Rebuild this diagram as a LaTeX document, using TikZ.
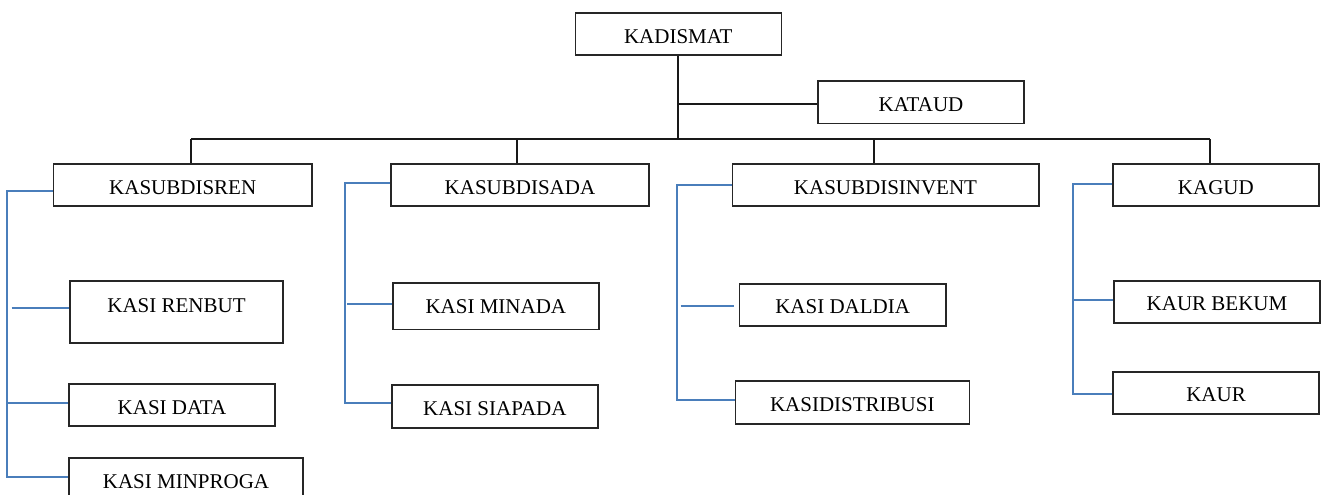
\documentclass[tikz,border=0pt]{standalone}
\usepackage{fontspec}
\setmainfont{Liberation Serif}
\definecolor{blueline}{HTML}{4A7EBB}
\begin{document}
\begin{tikzpicture}[x={(1pt,0pt)},y={(0pt,-1pt)},
  box/.style={draw=black!85, line width=1.6pt, inner sep=0pt, text height=18pt, text depth=0pt,
    font=\fontsize{21}{25}\selectfont, anchor=center},
  blk/.style={line width=2.1pt, draw=black!90},
  blu/.style={line width=2.1pt, draw=blueline}]
\useasboundingbox (0,0) rectangle (1322,495);
\fill[white] (0,0) rectangle (1322,495);
\clip (0,0) rectangle (1322,495);
% top
\node[box, minimum width=206pt, minimum height=42pt] (kadismat) at (678.3,34.3) {KADISMAT};
\node[box, minimum width=206pt, minimum height=42.6pt] (kataud) at (921,102) {KATAUD};
% level 2
\node[box, minimum width=258.5pt, minimum height=42pt] (ren) at (182.75,185) {KASUBDISREN};
\node[box, minimum width=258pt, minimum height=42pt] (ada) at (520,185) {KASUBDISADA};
\node[box, minimum width=306.4pt, minimum height=42pt] (invent) at (885.5,185) {KASUBDISINVENT};
\node[box, minimum width=206.3pt, minimum height=42.3pt] (gud) at (1215.85,185) {KAGUD};
% level 3
\node[box, minimum width=213pt, minimum height=62pt, text height=14pt, text depth=13pt] (renbut) at (176.5,312) {KASI RENBUT};
\node[box, minimum width=206pt, minimum height=42pt] (data) at (172,405) {KASI DATA};
\node[box, minimum width=234pt, minimum height=43pt] (minproga) at (186,479.5) {KASI MINPROGA};
\node[box, minimum width=206.3pt, minimum height=46.6pt, text height=14pt] (minada) at (495.85,306) {KASI MINADA};
\node[box, minimum width=206.3pt, minimum height=43pt] (siapada) at (494.85,406.2) {KASI SIAPADA};
\node[box, minimum width=206.7pt, minimum height=42.3pt] (daldia) at (842.65,304.85) {KASI DALDIA};
\node[box, minimum width=234pt, minimum height=43pt] (distribusi) at (852.3,402.5) {KASIDISTRIBUSI};
\node[box, minimum width=206pt, minimum height=42.3pt] (bekum) at (1217,301.85) {KAUR BEKUM};
\node[box, minimum width=206pt, minimum height=42.3pt] (kaur) at (1216,392.85) {KAUR};
% black hierarchy
\coordinate (barL) at (191,139.3);
\coordinate (barR) at (1210,139.3);
\coordinate (d2) at (517.3,139.3);
\coordinate (d3) at (874,139.3);
\coordinate (taud) at (678.3,103.7);
\draw[blk] (kadismat.south) -- (kadismat.south |- barL);
\draw[blk] (taud) -- (kataud.west |- taud);
\draw[blk] (barL) -- (barR);
\draw[blk] (barL) -- (barL |- ren.north);
\draw[blk] (d2) -- (d2 |- ada.north);
\draw[blk] (d3) -- (d3 |- invent.north);
\draw[blk] (barR) -- (barR |- gud.north);
% blue column 1
\coordinate (v1t) at (7.3,191);
\coordinate (v1b) at (7.3,477);
\coordinate (c1a) at (11.7,308);
\coordinate (c1b) at (7.3,403);
\draw[blu] (ren.west |- v1t) -- (v1t) -- (v1b) -- (minproga.west |- v1b);
\draw[blu] (c1a) -- (renbut.west |- c1a);
\draw[blu] (c1b) -- (data.west |- c1b);
% blue column 2
\coordinate (v2t) at (345.3,183.3);
\coordinate (v2b) at (345.3,403.3);
\coordinate (c2a) at (347,304);
\draw[blu] (ada.west |- v2t) -- (v2t) -- (v2b) -- (siapada.west |- v2b);
\draw[blu] (c2a) -- (minada.west |- c2a);
% blue column 3
\coordinate (v3t) at (676.7,184.7);
\coordinate (v3b) at (676.7,400);
\coordinate (c3a) at (680.7,305.7);
\draw[blu] (invent.west |- v3t) -- (v3t) -- (v3b) -- (distribusi.west |- v3b);
\draw[blu] (c3a) -- ([xshift=-4.6pt]daldia.west |- c3a);
% blue column 4
\coordinate (v4t) at (1073,184);
\coordinate (v4b) at (1073,394);
\coordinate (c4a) at (1073,300.3);
\draw[blu] (gud.west |- v4t) -- (v4t) -- (v4b) -- (kaur.west |- v4b);
\draw[blu] (c4a) -- (bekum.west |- c4a);
\end{tikzpicture}
\end{document}
